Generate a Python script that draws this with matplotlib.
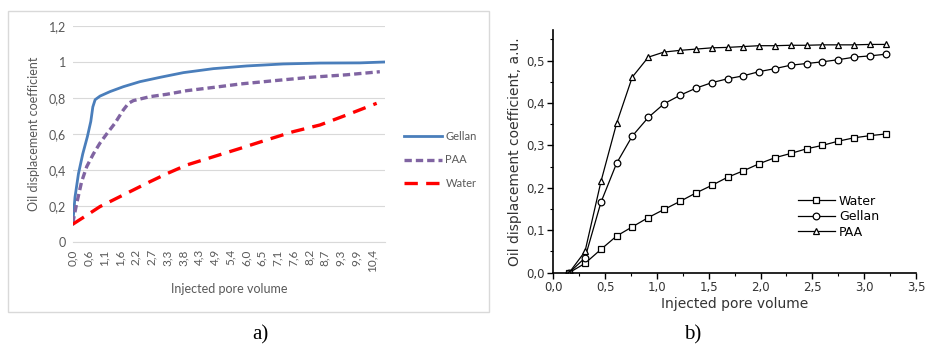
import numpy as np
import matplotlib.pyplot as plt
from matplotlib.patches import Rectangle

# -------------------------------
# Panel a) data (Excel-style chart)
# -------------------------------
gellan_a_x = [0.0, 0.08, 0.2, 0.35, 0.51, 0.63, 0.7, 0.78, 0.95, 1.3, 1.76, 2.34,
              3.04, 3.85, 4.89, 6.05, 7.32, 8.6, 9.99, 10.86]
gellan_a_y = [0.1, 0.25, 0.38, 0.49, 0.585, 0.67, 0.75, 0.79, 0.81, 0.835, 0.862, 0.89,
              0.914, 0.94, 0.962, 0.977, 0.988, 0.993, 0.994, 0.999]

paa_a_x = [0.0, 0.14, 0.31, 0.49, 0.72, 0.95, 1.18, 1.47, 1.76, 1.94, 2.11, 2.69,
           3.27, 3.96, 4.89, 5.82, 6.98, 8.25, 9.52, 10.68]
paa_a_y = [0.105, 0.216, 0.336, 0.42, 0.49, 0.55, 0.60, 0.66, 0.733, 0.77, 0.785, 0.807,
           0.82, 0.84, 0.858, 0.877, 0.895, 0.914, 0.928, 0.945]

water_a_x = [0.0, 0.49, 0.95, 1.53, 2.11, 2.69, 3.27, 3.96, 4.89, 5.82, 6.74, 7.67,
             8.6, 9.52, 10.57]
water_a_y = [0.1, 0.15, 0.198, 0.244, 0.29, 0.336, 0.38, 0.428, 0.474, 0.52, 0.567, 0.613,
             0.65, 0.705, 0.77]

a_tick_labels = ["0,0", "0,6", "1,1", "1,6", "2,2", "2,7", "3,3", "3,8", "4,3", "4,9",
                 "5,4", "6,0", "6,5", "7,1", "7,6", "8,2", "8,7", "9,3", "9,9", "10,4"]
a_tick_step = 0.5475
a_y_ticks = [0, 0.2, 0.4, 0.6, 0.8, 1.0, 1.2]
a_y_labels = ["0", "0,2", "0,4", "0,6", "0,8", "1", "1,2"]

# -------------------------------
# Panel b) data (Origin-style chart)
# -------------------------------
b_x = [0.153, 0.306, 0.46, 0.611, 0.762, 0.917, 1.068, 1.222, 1.377, 1.531, 1.682,
       1.833, 1.988, 2.139, 2.29, 2.444, 2.596, 2.75, 2.904, 3.056, 3.21]
water_b = [0.0, 0.022, 0.055, 0.0865, 0.108, 0.13, 0.149, 0.168, 0.188, 0.206, 0.225,
           0.24, 0.257, 0.271, 0.281, 0.292, 0.30, 0.31, 0.318, 0.323, 0.327]
gellan_b = [0.0, 0.035, 0.166, 0.258, 0.322, 0.366, 0.398, 0.418, 0.435, 0.448, 0.457,
            0.464, 0.474, 0.481, 0.489, 0.493, 0.497, 0.502, 0.508, 0.511, 0.515]
paa_b = [0.0, 0.05, 0.215, 0.352, 0.461, 0.508, 0.52, 0.524, 0.527, 0.53, 0.531,
         0.533, 0.535, 0.535, 0.536, 0.536, 0.537, 0.537, 0.537, 0.538, 0.538]

b_x_ticks = [0.0, 0.5, 1.0, 1.5, 2.0, 2.5, 3.0, 3.5]
b_y_ticks = [0.0, 0.1, 0.2, 0.3, 0.4, 0.5]

fig = plt.figure(figsize=(9.26, 3.5), dpi=100)

# border around panel a
fig.patches.append(Rectangle((8 / 926, 1 - 312 / 350), 481 / 926, 301 / 350,
                             transform=fig.transFigure, fill=False,
                             edgecolor="#d9d9d9", linewidth=1.0))

# -------------------------------
# Panel a
# -------------------------------
gray = "#595959"
ax1 = fig.add_axes([72.7 / 926, 1 - 242.3 / 350, 312.3 / 926, 216.6 / 350])
ax1.plot(gellan_a_x, gellan_a_y, color="#4a7ebb", linewidth=2.0, label="Gellan")
ax1.plot(paa_a_x, paa_a_y, color="#8064a2", linewidth=2.4, linestyle=(0, (2.2, 1.2)),
         label="PAA")
ax1.plot(water_a_x, water_a_y, color="#ff0000", linewidth=2.4, linestyle=(0, (4, 2.5)),
         label="Water")
ax1.set_xlim(0, 10.86)
ax1.set_ylim(0, 1.2)
ax1.set_xticks(np.arange(len(a_tick_labels)) * a_tick_step)
ax1.set_xticklabels(a_tick_labels, rotation=90, fontsize=8.5, color=gray, family="Lato")
ax1.set_yticks(a_y_ticks)
ax1.set_yticklabels(a_y_labels, fontsize=9, color=gray, family="Lato")
ax1.tick_params(length=0, pad=5)
ax1.grid(axis="y", color="#d9d9d9", linewidth=0.8)
ax1.set_axisbelow(True)
for s in ["top", "right", "left"]:
    ax1.spines[s].set_visible(False)
ax1.spines["bottom"].set_color("#d9d9d9")
ax1.set_xlabel("Injected pore volume", fontsize=9, color=gray, family="Lato", labelpad=8)
ax1.set_ylabel("Oil displacement coefficient", fontsize=9, color=gray, family="Lato",
               labelpad=6)
leg1 = ax1.legend(loc="center left", bbox_to_anchor=(1.03, 0.38), frameon=False,
                  handlelength=3.4, labelspacing=1.15, handletextpad=0.3,
                  prop={"family": "Lato", "size": 8})
for t in leg1.get_texts():
    t.set_color(gray)

# -------------------------------
# Panel b
# -------------------------------
ax2 = fig.add_axes([553.3 / 926, 1 - 272.7 / 350, 362.7 / 926, 242.7 / 350])
mk = dict(color="black", linewidth=0.9, markersize=4.8, markerfacecolor="white",
          markeredgecolor="black", markeredgewidth=0.9)
ax2.plot(b_x, water_b, marker="s", label="Water", **mk)
ax2.plot(b_x, gellan_b, marker="o", label="Gellan", **mk)
ax2.plot(b_x, paa_b, marker="^", label="PAA", **mk)
ax2.set_xlim(0, 3.5)
ax2.set_ylim(0, 0.572)
ax2.set_xticks(b_x_ticks)
ax2.set_xticklabels([f"{v:.1f}".replace(".", ",") for v in b_x_ticks], fontsize=8.5,
                    color="#333333")
ax2.set_yticks(b_y_ticks)
ax2.set_yticklabels([f"{v:.1f}".replace(".", ",") for v in b_y_ticks], fontsize=8.5,
                    color="#333333")
ax2.set_xticks(np.arange(0.25, 3.5, 0.5), minor=True)
ax2.set_yticks(np.arange(0.05, 0.56, 0.1), minor=True)
ax2.tick_params(which="major", direction="out", length=4, width=1.0, pad=2)
ax2.tick_params(which="minor", direction="out", length=2.5, width=0.8)
for s in ["top", "right"]:
    ax2.spines[s].set_visible(False)
for s in ["left", "bottom"]:
    ax2.spines[s].set_linewidth(1.2)
ax2.set_xlabel("Injected pore volume", fontsize=10, color="#333333", labelpad=2)
ax2.set_ylabel("Oil displacement coefficient, a.u.", fontsize=10, color="#333333",
               labelpad=3)
ax2.legend(loc="lower left", bbox_to_anchor=(0.66, 0.12), frameon=False, fontsize=9,
           handlelength=3.0, labelspacing=0.2, handletextpad=0.3, borderaxespad=0)

# panel letters
fig.text(260 / 926, 1 - 335 / 350, "a)", ha="center", va="center", fontsize=15,
         family="Liberation Serif")
fig.text(693 / 926, 1 - 335 / 350, "b)", ha="center", va="center", fontsize=15,
         family="Liberation Serif")

plt.savefig("out.png", dpi=100)
